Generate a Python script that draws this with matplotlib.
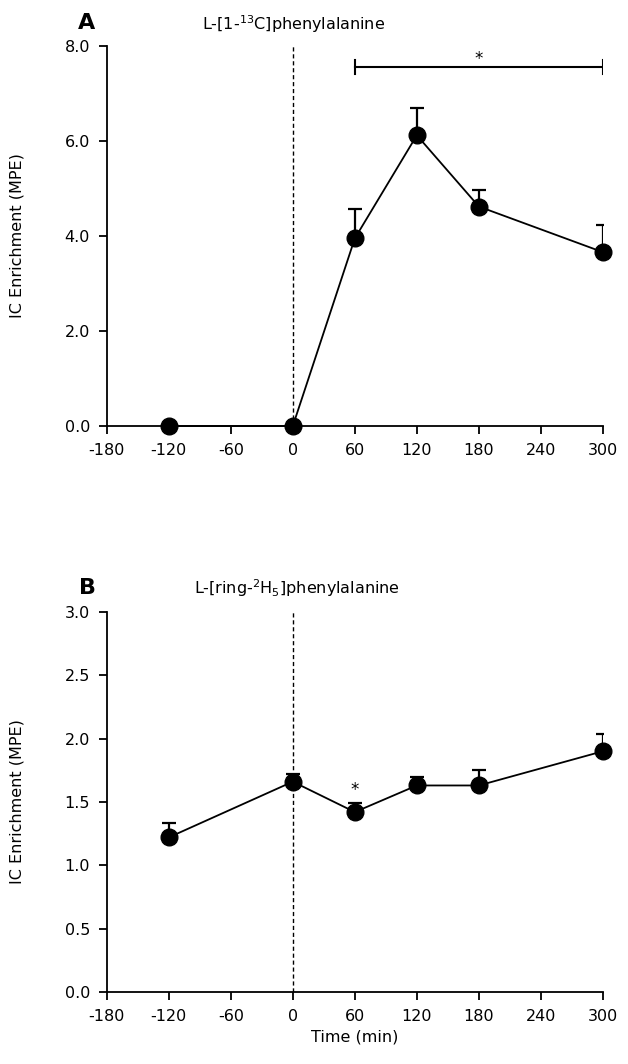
import matplotlib.pyplot as plt
import numpy as np

# time points (min)
time_a = [-120, 0, 60, 120, 180, 300]
phe13c_mean = [0.0, 0.0, 3.95, 6.12, 4.62, 3.66]
phe13c_sem = [0.0, 0.0, 0.62, 0.58, 0.34, 0.57]

time_b = [-120, 0, 60, 120, 180, 300]
phe2h5_mean = [1.22, 1.66, 1.42, 1.63, 1.63, 1.90]
phe2h5_sem = [0.11, 0.06, 0.07, 0.07, 0.12, 0.14]

xticks = [-180, -120, -60, 0, 60, 120, 180, 240, 300]

plt.rcParams['font.family'] = ['Verdana', 'DejaVu Sans']

fig = plt.figure(figsize=(6.28, 10.64), dpi=100)
ax_a = fig.add_axes([0.170, 0.5996, 0.790, 0.3572])
ax_b = fig.add_axes([0.170, 0.0677, 0.790, 0.3572])


def style_axis(ax, ylim, yticks):
    ax.set_xlim(-180, 300)
    ax.set_ylim(*ylim)
    ax.set_xticks(xticks)
    ax.set_xticklabels([str(t) for t in xticks], fontsize=11.5)
    ax.set_yticks(yticks)
    ax.set_yticklabels([f"{v:.1f}" for v in yticks], fontsize=11.5)
    for s in ["top", "right"]:
        ax.spines[s].set_visible(False)
    for s in ["left", "bottom"]:
        ax.spines[s].set_linewidth(1.3)
    ax.tick_params(direction="out", length=6, width=1.3, pad=6)
    ax.set_ylabel("IC Enrichment (MPE)", fontsize=11.5)
    ax.yaxis.set_label_coords(-0.165, 0.5)
    ax.axvline(0, color="black", ls=(0, (3, 2)), lw=1.0, zorder=1)


def draw_series(ax, t, m, e):
    _, caps, _ = ax.errorbar(t, m, yerr=[np.zeros(len(e)), e], fmt="none",
                             ecolor="black", elinewidth=1.6, capsize=5,
                             capthick=1.6, zorder=2)
    caps[0].set_visible(False)  # only the upper cap, like the original
    ax.plot(t, m, color="black", lw=1.3, marker="o", markersize=12, zorder=3,
            clip_on=False)


style_axis(ax_a, (0, 8), [0, 2, 4, 6, 8])
draw_series(ax_a, time_a, phe13c_mean, phe13c_sem)
# significance bracket
ax_a.plot([60, 300], [7.55, 7.55], color="black", lw=1.5)
ax_a.plot([60, 60], [7.4, 7.7], color="black", lw=1.5)
ax_a.plot([300, 300], [7.4, 7.7], color="black", lw=1.5)
ax_a.text(180, 7.72, "*", ha="center", va="center", fontsize=12)

style_axis(ax_b, (0, 3), [0, 0.5, 1.0, 1.5, 2.0, 2.5, 3.0])
draw_series(ax_b, time_b, phe2h5_mean, phe2h5_sem)
ax_b.text(60, 1.52, "*", ha="center", va="bottom", fontsize=12)
ax_b.set_xlabel("Time (min)", fontsize=11.5, labelpad=4)

fig.text(0.137, 0.978, "A", fontsize=16, fontweight="bold", ha="center", va="center")
fig.text(0.139, 0.447, "B", fontsize=16, fontweight="bold", ha="center", va="center")
fig.text(0.468, 0.977, r"L-[1-$^{13}$C]phenylalanine", fontsize=11.5, ha="center", va="center")
fig.text(0.473, 0.447, r"L-[ring-$^{2}$H$_{5}$]phenylalanine", fontsize=11.5, ha="center", va="center")

fig.savefig("out.png", dpi=100)
